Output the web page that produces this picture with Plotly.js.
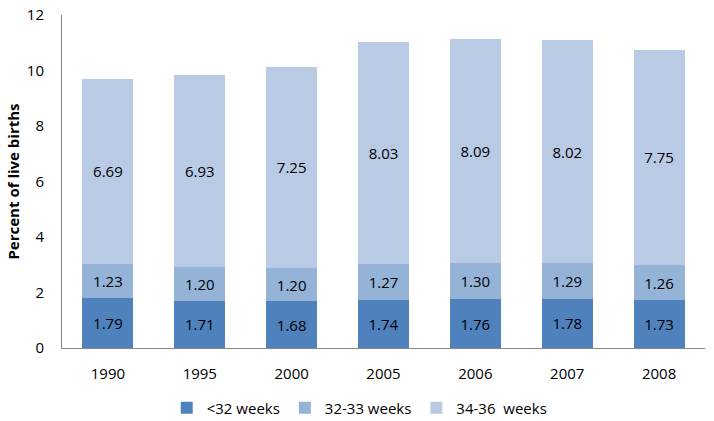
<!DOCTYPE html>
<html><head><meta charset="utf-8">
<script src="https://cdn.plot.ly/plotly-3.0.1.min.js"></script>
<style>body{margin:0;padding:0;background:#fff}#c{width:714px;height:421px}</style>
</head><body><div id="c"></div>
<script>
var years = ['1990','1995','2000','2005','2006','2007','2008'];
var under32 = [1.79,1.71,1.68,1.74,1.76,1.78,1.73];
var w32_33 = [1.23,1.20,1.20,1.27,1.30,1.29,1.26];
var w34_36 = [6.69,6.93,7.25,8.03,8.09,8.02,7.75];
var names = ['<32 weeks','32-33 weeks','34-36\u00a0 weeks'];
var colors = ['#4F81BD','#95B3D7','#B9CAE4'];
var font = '"Open Sans", "Liberation Sans", sans-serif';
var series = [under32, w32_33, w34_36];
var traces = series.map(function(v,i){
  return {type:'bar', x:years, y:v, name:names[i], marker:{color:colors[i]},
    width:0.556, text:v.map(function(a){return a.toFixed(2);}), textposition:'inside',
    insidetextanchor:'middle', constraintext:'none', textangle:0,
    textfont:{family:font,size:15,color:'#000'}, hoverinfo:'skip'};
});
var layout = {
  width:714, height:421, barmode:'stack',
  margin:{l:62,r:9,t:15,b:73,autoexpand:false},
  paper_bgcolor:'#fff', plot_bgcolor:'#fff', showlegend:true,
  font:{family:font,size:15,color:'#000'},
  xaxis:{type:'category', range:[-0.5,6.5], showline:true, linecolor:'#868686', linewidth:1,
    ticks:'', ticklabelstandoff:12, tickfont:{family:font,size:15,color:'#000'}, showgrid:false, zeroline:false, fixedrange:true, automargin:false},
  yaxis:{range:[0,12], dtick:2, tick0:0, showline:true, linecolor:'#868686', linewidth:1,
    ticks:'', showgrid:false, zeroline:false, tickfont:{family:font,size:15,color:'#000'},
    ticklabelstandoff:14, automargin:false,
    title:{text:'<b>Percent of live births</b>', font:{family:font,size:15,color:'#000'}, standoff:3}},
  legend:{orientation:'h', x:0.463, xanchor:'center', y:-0.18, yanchor:'middle',
    font:{family:font,size:15,color:'#000'}, traceorder:'normal', itemwidth:30}
};
Plotly.newPlot('c', traces, layout, {displayModeBar:false, staticPlot:true});
</script></body></html>
